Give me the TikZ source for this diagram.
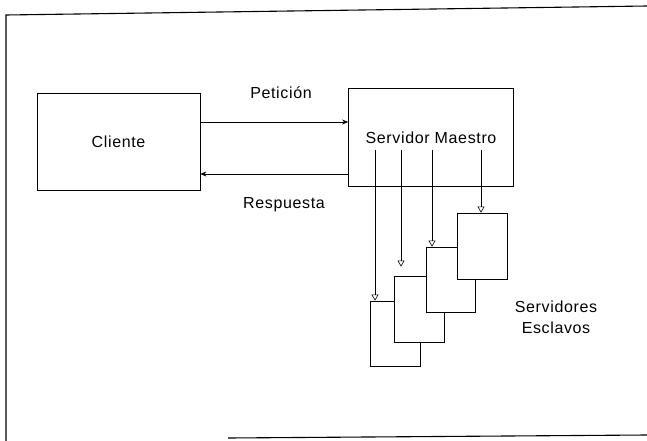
\documentclass[tikz,border=0pt]{standalone}
\usepackage{fontspec}
\setmainfont{Liberation Sans}[LetterSpace=4]
\usetikzlibrary{arrows.meta}
\begin{document}
\begin{tikzpicture}[x=1pt,y=-1pt,
  box/.style={draw,line width=0.8pt,fill=white,inner sep=0pt},
  lbl/.style={font=\fontsize{16}{21}\selectfont,inner sep=0pt},
  frame/.style={line width=1.1pt},
  conn/.style={line width=0.7pt,-{Stealth[length=6pt,width=5pt]}},
  sub/.style={line width=0.6pt,-{Triangle[open,length=6pt,width=7pt]}}]
\useasboundingbox (0,0) rectangle (647,441);
% frame
\coordinate (f1) at (6,441);
\coordinate (f2) at (6,15);
\coordinate (f3) at (647,6);
\coordinate (f4) at (228,438);
\coordinate (f5) at (647,435);
\draw[frame] (f1) -- (f2) -- (f3);
\draw[frame] (f4) -- (f5);
% main boxes
\node[box,minimum width=163pt,minimum height=97pt,lbl] (cli) at (118.5,141.5) {Cliente};
\node[box,minimum width=165pt,minimum height=98pt,lbl] (mas) at (431,137.5) {Servidor Maestro};
% labels
\node[lbl] (pet) at (281,93) {Petición};
\node[lbl] (res) at (284,205) {Respuesta};
\node[lbl,align=center] (esc) at (556,317) {Servidores\\Esclavos};
% connectors
\draw[conn] (cli.east |- 0,122) coordinate (a1) -- (a1 -| mas.west);
\draw[conn] (mas.west |- 0,174) coordinate (a2) -- (a2 -| cli.east);
% slave boxes
\node[box,minimum width=50pt,minimum height=65pt] (e1) at (395,333.5) {};
\node[box,minimum width=50pt,minimum height=66pt] (e2) at (419,309) {};
\node[box,minimum width=49pt,minimum height=65pt] (e3) at (450.5,279.5) {};
\node[box,minimum width=50pt,minimum height=66pt] (e4) at (482,246) {};
% slave connectors
\coordinate (s1) at (375,150);
\coordinate (s2) at (401,150);
\coordinate (s3) at (432,150);
\coordinate (s4) at (481,150);
\draw[sub] (s1) -- (s1 |- e1.north);
\draw[sub,shorten >=9pt] (s2) -- (s2 |- e2.north);
\draw[sub] (s3) -- (s3 |- e3.north);
\draw[sub] (s4) -- (s4 |- e4.north);
\end{tikzpicture}
\end{document}
